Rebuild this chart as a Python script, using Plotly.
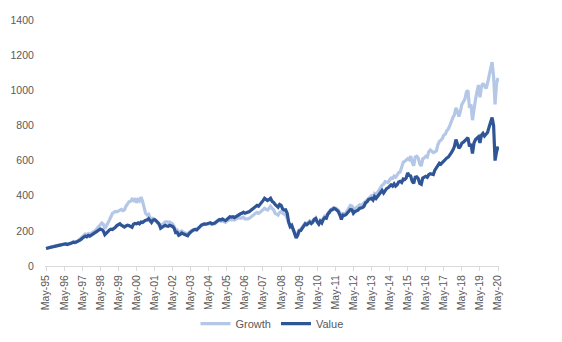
import pandas as pd
import plotly.graph_objects as go

# Monthly index levels (base 100 = May 1995), one row per calendar year
growth = [
    100, 103, 106, 108, 110, 111, 114, 116,                            # 1995 (May-Dec)
    118, 120, 121, 124, 128, 127, 123, 126, 130, 133, 137, 135,        # 1996
    138, 143, 150, 157, 166, 172, 182, 176, 185, 180, 186, 190,        # 1997
    196, 205, 215, 225, 240, 245, 238, 212, 228, 250, 262, 280,        # 1998
    300, 305, 310, 308, 312, 318, 322, 315, 320, 340, 355, 365,        # 1999
    368, 380, 372, 385, 360, 378, 370, 392, 368, 330, 300, 290,        # 2000
    295, 275, 260, 270, 265, 255, 245, 235, 220, 235, 245, 250,        # 2001
    252, 248, 250, 245, 240, 225, 200, 205, 185, 195, 200, 192,        # 2002
    188, 185, 182, 192, 198, 204, 208, 210, 208, 218, 222, 232,        # 2003
    236, 238, 236, 238, 240, 242, 236, 238, 240, 248, 255, 260,        # 2004
    255, 258, 252, 248, 255, 258, 265, 262, 265, 262, 266, 270,        # 2005
    275, 272, 275, 278, 268, 266, 268, 272, 280, 288, 296, 300,        # 2006
    305, 300, 305, 315, 322, 328, 322, 318, 328, 340, 328, 320,        # 2007
    300, 295, 290, 305, 310, 300, 292, 290, 272, 240, 220, 222,        # 2008
    210, 190, 172, 188, 205, 208, 220, 232, 245, 240, 250, 258,        # 2009
    250, 258, 270, 275, 255, 242, 258, 250, 272, 285, 285, 302,        # 2010
    312, 322, 325, 332, 330, 325, 318, 298, 275, 300, 298, 302,        # 2011
    318, 332, 345, 342, 320, 328, 332, 338, 348, 345, 350, 358,        # 2012
    372, 378, 388, 394, 400, 392, 412, 405, 420, 438, 448, 460,        # 2013
    465, 480, 478, 475, 490, 500, 498, 512, 505, 520, 532, 535,        # 2014
    560, 590, 595, 600, 610, 605, 625, 590, 570, 620, 625, 615,        # 2015
    580, 570, 610, 615, 625, 620, 650, 660, 655, 645, 650, 655,        # 2016
    690, 710, 715, 725, 745, 750, 770, 780, 800, 830, 845, 860,        # 2017
    900, 880, 850, 880, 920, 935, 950, 990, 1000, 900, 920, 830,       # 2018
    900, 950, 990, 1030, 960, 1020, 1040, 1020, 1010, 1040, 1090, 1120,  # 2019
    1160, 1080, 920, 1040, 1070,                                       # 2020 (Jan-May)
]

value = [
    100, 103, 106, 107, 109, 110, 113, 115,                            # 1995 (May-Dec)
    117, 119, 120, 122, 125, 126, 122, 124, 128, 131, 135, 133,        # 1996
    136, 140, 146, 150, 158, 162, 170, 166, 174, 170, 175, 180,        # 1997
    185, 190, 198, 205, 210, 207, 200, 178, 185, 195, 205, 210,        # 1998
    208, 212, 220, 230, 235, 240, 232, 225, 222, 228, 232, 230,        # 1999
    225, 220, 238, 242, 240, 245, 240, 250, 248, 255, 260, 262,        # 2000
    270, 258, 248, 262, 265, 258, 250, 240, 215, 222, 230, 232,        # 2001
    228, 226, 232, 228, 225, 215, 190, 192, 175, 180, 188, 183,        # 2002
    180, 176, 172, 185, 195, 200, 205, 208, 205, 215, 222, 232,        # 2003
    236, 240, 238, 242, 245, 246, 240, 242, 245, 252, 260, 265,        # 2004
    262, 268, 262, 258, 265, 270, 280, 278, 280, 275, 282, 287,        # 2005
    295, 297, 300, 306, 300, 302, 305, 310, 318, 325, 335, 340,        # 2006
    345, 340, 348, 360, 372, 385, 380, 372, 378, 385, 368, 362,        # 2007
    350, 340, 335, 350, 345, 325, 318, 320, 300, 250, 225, 232,        # 2008
    210, 180, 160, 175, 200, 202, 215, 230, 240, 235, 245, 250,        # 2009
    242, 250, 265, 270, 250, 238, 255, 245, 265, 275, 272, 295,        # 2010
    305, 318, 320, 328, 325, 318, 310, 290, 265, 290, 288, 292,        # 2011
    305, 315, 322, 320, 300, 310, 312, 318, 328, 330, 332, 340,        # 2012
    360, 365, 378, 382, 385, 375, 395, 385, 398, 412, 420, 430,        # 2013
    415, 432, 440, 445, 455, 462, 455, 468, 455, 462, 478, 482,        # 2014
    475, 495, 492, 500, 530, 515, 512, 482, 470, 505, 508, 498,        # 2015
    470, 465, 500, 505, 510, 505, 520, 525, 522, 520, 545, 560,        # 2016
    570, 585, 580, 590, 600, 605, 615, 620, 630, 645, 660, 680,        # 2017
    720, 690, 670, 680, 700, 705, 715, 720, 730, 680, 695, 640,        # 2018
    700, 720, 725, 735, 700, 745, 755, 740, 750, 760, 790, 815,        # 2019
    845, 800, 600, 650, 680,                                           # 2020 (Jan-May)
]

dates = pd.date_range("1995-05-01", periods=len(growth), freq="MS")
tick_dates = pd.date_range("1995-05-01", "2020-05-01", freq="12MS")
tick_labels = [d.strftime("%b-%y") for d in tick_dates]

GROWTH_COLOR = "#B4C7E7"
VALUE_COLOR = "#2F5597"
TEXT_COLOR = "#595959"
AXIS_COLOR = "#D9D9D9"
FONT = "Liberation Sans"

fig = go.Figure()
fig.add_trace(go.Scatter(x=dates, y=growth, name="Growth", mode="lines",
                         line=dict(color=GROWTH_COLOR, width=3.2)))
fig.add_trace(go.Scatter(x=dates, y=value, name="Value", mode="lines",
                         line=dict(color=VALUE_COLOR, width=3.2)))

fig.update_layout(
    width=562, height=342,
    margin=dict(l=45, r=63, t=20, b=76, autoexpand=False),
    paper_bgcolor="white", plot_bgcolor="white",
    font=dict(family=FONT, size=10.5, color=TEXT_COLOR),
    showlegend=True,
    legend=dict(orientation="h", x=0.5, xanchor="center",
                y=-0.175, yanchor="top",
                font=dict(family=FONT, size=11, color=TEXT_COLOR),
                itemwidth=30, tracegroupgap=0),
    xaxis=dict(
        range=[pd.Timestamp("1995-04-10"), pd.Timestamp("2020-05-20")],
        tickmode="array", tickvals=tick_dates, ticktext=tick_labels,
        tickangle=-90, showgrid=False, zeroline=False,
        showline=True, linecolor=AXIS_COLOR, linewidth=1,
        ticks="outside", ticklen=4, tickcolor=AXIS_COLOR,
        tickfont=dict(family=FONT, size=10.5, color=TEXT_COLOR),
        automargin=False,
    ),
    yaxis=dict(
        range=[0, 1400], tickmode="linear", tick0=0, dtick=200,
        showgrid=False, zeroline=False, showline=False,
        ticks="outside", ticklen=8, tickcolor="rgba(0,0,0,0)",
        tickfont=dict(family=FONT, size=10.5, color=TEXT_COLOR),
        automargin=False,
    ),
)

fig.write_html("out.html")
